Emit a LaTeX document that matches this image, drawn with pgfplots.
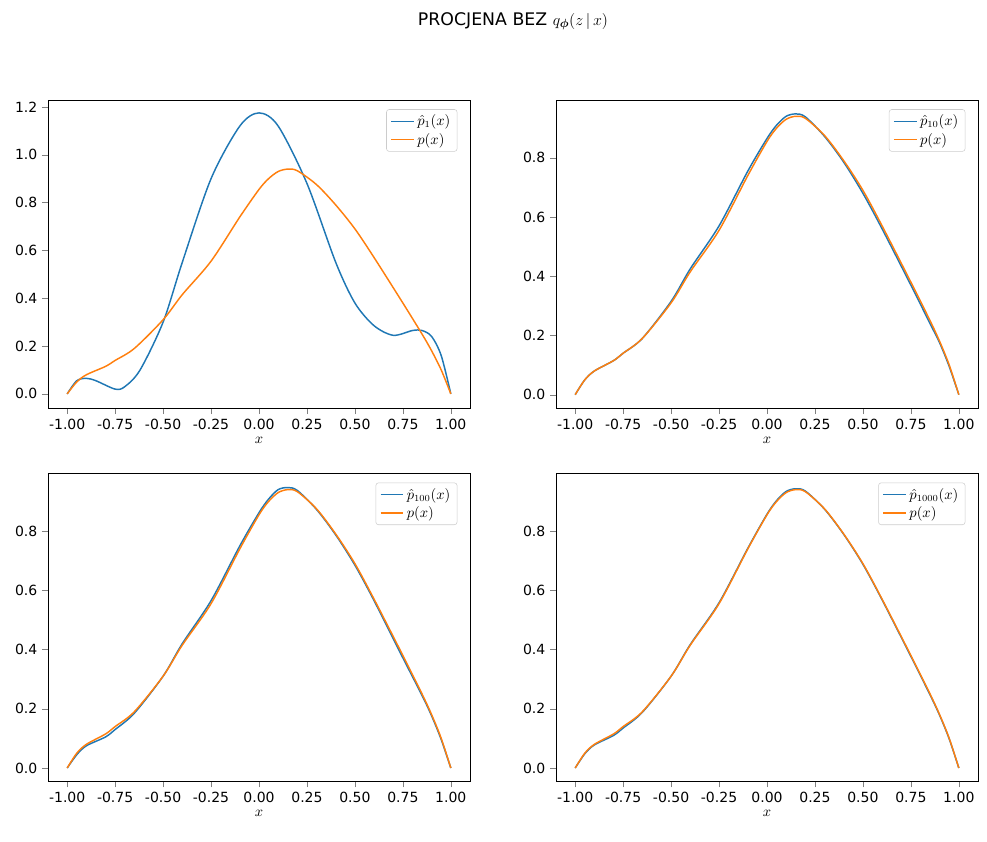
\documentclass[border=0pt]{standalone}
\usepackage{pgfplots}
\pgfplotsset{compat=1.18}
\usepgfplotslibrary{groupplots}
\usepackage{amsmath,bm}
\usepackage{fontspec}
\setmainfont{DejaVu Sans}
\definecolor{mblue}{HTML}{1F77B4}
\definecolor{morange}{HTML}{FF7F0E}
\begin{document}
\begin{tikzpicture}[font=\fontsize{10.5}{12.5}\selectfont]
\pgfplotstableread{
x y
-1.0 0.0
-0.95 0.05
-0.9 0.08
-0.8 0.115
-0.75 0.14
-0.65 0.19
-0.5 0.31
-0.4 0.415
-0.25 0.555
-0.1 0.74
0.0 0.855
0.05 0.9
0.1 0.93
0.15 0.94
0.2 0.933
0.3 0.875
0.4 0.79
0.5 0.69
0.6 0.57
0.75 0.38
0.85 0.25
0.9 0.18
0.95 0.1
1.0 0.0
}\ptrue
\pgfplotstableread{
x y
-1.0 0.0
-0.95 0.055
-0.9 0.065
-0.85 0.055
-0.75 0.02
-0.7 0.03
-0.62 0.1
-0.5 0.3
-0.4 0.55
-0.25 0.9
-0.1 1.12
0.0 1.175
0.1 1.12
0.25 0.88
0.4 0.55
0.5 0.38
0.6 0.285
0.7 0.245
0.8 0.265
0.85 0.265
0.9 0.24
0.95 0.16
1.0 0.0
}\pone
\pgfplotstableread{
x y
-1.0 0.0
-0.95 0.05
-0.9 0.08
-0.8 0.115
-0.75 0.14
-0.65 0.19
-0.5 0.315
-0.4 0.425
-0.25 0.57
-0.1 0.755
0.0 0.865
0.05 0.91
0.1 0.94
0.15 0.948
0.2 0.938
0.3 0.872
0.4 0.785
0.5 0.68
0.6 0.56
0.75 0.37
0.85 0.24
0.9 0.175
0.95 0.095
1.0 0.0
}\pten
\pgfplotstableread{
x y
-1.0 0.0
-0.95 0.045
-0.9 0.075
-0.8 0.105
-0.75 0.13
-0.65 0.185
-0.5 0.31
-0.4 0.42
-0.25 0.565
-0.1 0.75
0.0 0.862
0.05 0.908
0.1 0.94
0.15 0.947
0.2 0.937
0.3 0.873
0.4 0.787
0.5 0.685
0.6 0.565
0.75 0.372
0.85 0.245
0.9 0.176
0.95 0.096
1.0 0.0
}\phund
\pgfplotstableread{
x y
-1.0 0.0
-0.95 0.048
-0.9 0.078
-0.8 0.11
-0.75 0.135
-0.65 0.188
-0.5 0.31
-0.4 0.417
-0.25 0.558
-0.1 0.742
0.0 0.857
0.05 0.903
0.1 0.934
0.15 0.943
0.2 0.935
0.3 0.874
0.4 0.789
0.5 0.688
0.6 0.568
0.75 0.377
0.85 0.247
0.9 0.178
0.95 0.098
1.0 0.0
}\pthou
\begin{groupplot}[group style={group size=2 by 2, horizontal sep=64.5pt, vertical sep=49pt},
 scale only axis, width=316.5pt, height=231pt,
 xmin=-1.1, xmax=1.1, xtick={-1,-0.75,...,1},
 xticklabel style={/pgf/number format/.cd,fixed,fixed zerofill,precision=2},
 yticklabel style={/pgf/number format/.cd,fixed,fixed zerofill,precision=1},
 /pgf/number format/assume math mode=true,
 tick align=outside, tick pos=left, major tick length=4.5pt,
 xlabel={$x$}, xlabel style={yshift=1pt},
 every axis plot/.append style={line width=1.1pt, smooth},
 legend pos=north east,
 legend style={draw=gray!40, rounded corners=2pt, font=\fontsize{10.5}{13}\selectfont},
 legend cell align=left]
\nextgroupplot[ymin=-0.059, ymax=1.229, ytick={0,0.2,...,1.2}, legend entries={$\hat p_1(x)$,$p(x)$}]
\addplot[mblue] table {\pone};
\addplot[morange] table {\ptrue};
\nextgroupplot[ymin=-0.045, ymax=0.995, ytick={0,0.2,...,0.8}, legend entries={$\hat p_{10}(x)$,$p(x)$}]
\addplot[mblue] table {\pten};
\addplot[morange] table {\ptrue};
\nextgroupplot[ymin=-0.045, ymax=0.995, ytick={0,0.2,...,0.8}, legend entries={$\hat p_{100}(x)$,$p(x)$}]
\addplot[mblue] table {\phund};
\addplot[morange] table {\ptrue};
\nextgroupplot[ymin=-0.045, ymax=0.995, ytick={0,0.2,...,0.8}, legend entries={$\hat p_{1000}(x)$,$p(x)$}]
\addplot[mblue] table {\pthou};
\addplot[morange] table {\ptrue};
\end{groupplot}
\path ([xshift=-36pt,yshift=75pt]group c1r1.north west) rectangle ([xshift=6.75pt,yshift=-45pt]group c2r2.south east);
\path ($(group c1r1.north west)!0.5!(group c2r1.north east)$) ++(0,59pt) node {\fontsize{13}{15}\selectfont PROCJENA BEZ $q_{\bm{\phi}}(z\,|\,x)$};
\end{tikzpicture}
\end{document}
